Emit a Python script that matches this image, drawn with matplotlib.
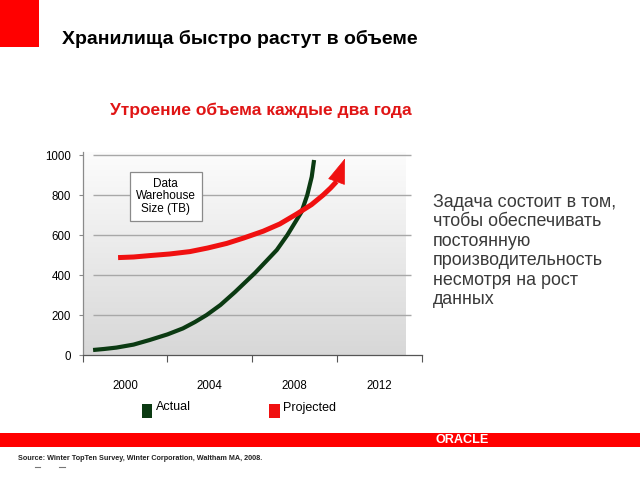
import numpy as np
import matplotlib
matplotlib.use("Agg")
import matplotlib.pyplot as plt
from matplotlib.patches import Rectangle

# ---- data ----
category_labels = ["2000", "2004", "2008", "2012"]
category_years = [2000, 2004, 2008, 2012]
y_ticks = [0, 200, 400, 600, 800, 1000]

actual_years = [1998.49, 1999.0, 1999.59, 2000.4, 2001.16, 2002.0, 2002.73, 2003.3,
                2003.85, 2004.5, 2005.19, 2006.13, 2007.16, 2007.66, 2008.33,
                2008.6, 2008.81, 2008.92]
actual_values = [25, 30, 37, 52, 75, 103, 133, 165, 200, 250, 315, 410, 525, 600,
                 716, 800, 891, 975]

projected_years = [1999.67, 2000.4, 2001.16, 2002.1, 2003.06, 2003.9, 2004.8, 2005.6,
                   2006.52, 2007.3, 2008.1, 2008.8, 2009.35, 2009.7, 2009.98, 2010.38]
projected_values = [487, 490, 497, 505, 517, 535, 558, 585, 619, 655, 705, 752, 800,
                    835, 867, 983]

title = "Хранилища быстро растут в объеме"
subtitle = "Утроение объема каждые два года"
box_text = "Data\nWarehouse\nSize (TB)"
side_lines = ["Задача состоит в том,", "чтобы обеспечивать", "постоянную",
              "производительность", "несмотря на рост", "данных"]
source_text = "Source: Winter TopTen Survey, Winter Corporation, Waltham MA, 2008."
legend_labels = ["Actual", "Projected"]

GREEN = "#0b3a12"
RED = "#f01010"
ARIAL = ["Liberation Sans", "DejaVu Sans"]

W, H = 640, 480
fig = plt.figure(figsize=(6.4, 4.8), dpi=100)
fig.patch.set_facecolor("white")
renderer = fig.canvas.get_renderer()


def fx(px):
    return px / W


def fy(py):
    return 1 - py / H


def fit_width(t, target_px):
    w = t.get_window_extent(renderer=renderer).width
    t.set_fontsize(t.get_fontsize() * target_px / w)


# top-left red square
fig.patches.append(Rectangle((0, fy(47)), fx(39), 47 / H, transform=fig.transFigure,
                             facecolor="#ff0000", edgecolor="none"))
# bottom red bar
fig.patches.append(Rectangle((0, fy(446.7)), 1, 14 / H, transform=fig.transFigure,
                             facecolor="#ff0000", edgecolor="none"))
t = fig.text(fx(435), fy(440), "ORACLE", color="white", fontsize=8.5, fontweight="bold",
             family=ARIAL, ha="left", va="center")
fit_width(t, 53)

t = fig.text(fx(62), fy(38.5), title, fontsize=15, fontweight="bold", family=ARIAL,
             ha="left", va="center", color="black")
fit_width(t, 358)
t = fig.text(fx(110), fy(110.5), subtitle, fontsize=13, fontweight="bold", family=ARIAL,
             ha="left", va="center", color="#e01515")
fit_width(t, 300)

# side text, one line per row
probe = fig.text(0, 0, side_lines[3], fontsize=12, family=ARIAL)
w = probe.get_window_extent(renderer=renderer).width
side_size = 12 * 170 / w
probe.remove()
for i, line in enumerate(side_lines):
    fig.text(fx(433), fy(206.7 + 19.5 * i), line, fontsize=side_size, family=ARIAL,
             ha="left", va="baseline", color="#3a3a3a")

t = fig.text(fx(18), fy(458), source_text, fontsize=5.3, fontweight="bold", family=ARIAL,
             ha="left", va="center", color="#222222")
fit_width(t, 244)
for xa, xb in [(35, 40), (59, 65)]:
    fig.add_artist(plt.Line2D([fx(xa), fx(xb)], [fy(467), fy(467)],
                              transform=fig.transFigure, color="#777777", lw=0.8))

# ---- axes ----
x_left_px, x_right_px = 82.7, 421.7
y_bot_px, y_top_px = 355.0, 151.6
ax = fig.add_axes([fx(x_left_px), fy(y_bot_px), (x_right_px - x_left_px) / W,
                   (y_bot_px - y_top_px) / H])
x0, x1 = 1998, 2014
ymax = 1017
px_per_year = (x_right_px - x_left_px) / (x1 - x0)
px_per_unit = (y_bot_px - y_top_px) / ymax


def px2year(px):
    return x0 + (px - x_left_px) / px_per_year


def py2val(py):
    return (y_bot_px - py) / px_per_unit


ax.set_facecolor("none")

grad = np.linspace(0.99, 0.845, 256).reshape(-1, 1)
ax.imshow(np.dstack([grad, grad, grad]), extent=[x0, px2year(405), 0, ymax],
          aspect="auto", origin="upper", zorder=0, interpolation="bicubic")
ax.set_xlim(x0, x1)
ax.set_ylim(0, ymax)

ax.hlines(y_ticks[1:], px2year(93.3), px2year(410.7), color="#a8a8a8", lw=1.0, zorder=1)

for s in ["top", "right"]:
    ax.spines[s].set_visible(False)
ax.spines["left"].set_color("#8a8a8a")
ax.spines["bottom"].set_color("#555555")
ax.spines["left"].set_linewidth(0.9)
ax.spines["bottom"].set_linewidth(0.9)

ax.set_yticks(y_ticks)
ax.set_yticklabels([str(v) for v in y_ticks], family=ARIAL, fontsize=8.3)
ax.tick_params(axis="y", length=3, width=0.8, color="#8a8a8a", pad=5.5)

bounds = [category_years[0] - 2] + [y + 2 for y in category_years]
ax.set_xticks(bounds)
ax.set_xticklabels([])
ax.tick_params(axis="x", which="major", length=5, width=0.8, color="#555555")
ax.set_xticks(category_years, minor=True)
ax.set_xticklabels(category_labels, minor=True, family=ARIAL, fontsize=8.3)
ax.tick_params(axis="x", which="minor", length=0, pad=18)

ax.plot(actual_years, actual_values, color=GREEN, lw=3.0, solid_capstyle="butt",
        solid_joinstyle="round", zorder=3, clip_on=False)
ax.plot(projected_years[:-1], projected_values[:-1], color=RED, lw=3.6,
        solid_capstyle="butt", solid_joinstyle="round", zorder=4, clip_on=False)
ax.annotate("", xy=(projected_years[-1], projected_values[-1]),
            xytext=(projected_years[-2], projected_values[-2]),
            arrowprops=dict(arrowstyle="-|>,head_length=0.85,head_width=0.3",
                            mutation_scale=20, color=RED, lw=0.5,
                            shrinkA=0, shrinkB=0),
            zorder=5, annotation_clip=False)

ax.text(px2year(165.7), py2val(196.4), box_text, ha="center", va="center", fontsize=8.5,
        family=ARIAL, color="black", linespacing=1.1, zorder=6,
        bbox=dict(boxstyle="square,pad=0.5", facecolor="white", edgecolor="#8a8a8a",
                  lw=0.9))

# ---- legend ----
fig.patches.append(Rectangle((fx(141.7), fy(418.3)), fx(10.6), 14 / H,
                             transform=fig.transFigure, facecolor=GREEN, edgecolor="none"))
fig.patches.append(Rectangle((fx(269), fy(418.3)), fx(10.6), 14 / H,
                             transform=fig.transFigure, facecolor=RED, edgecolor="none"))
fig.text(fx(156), fy(407.5), legend_labels[0], fontsize=9, family=ARIAL, ha="left",
         va="center", color="black")
fig.text(fx(283.5), fy(407.5), legend_labels[1], fontsize=9, family=ARIAL, ha="left",
         va="center", color="black")

fig.savefig("out.png", dpi=100)
